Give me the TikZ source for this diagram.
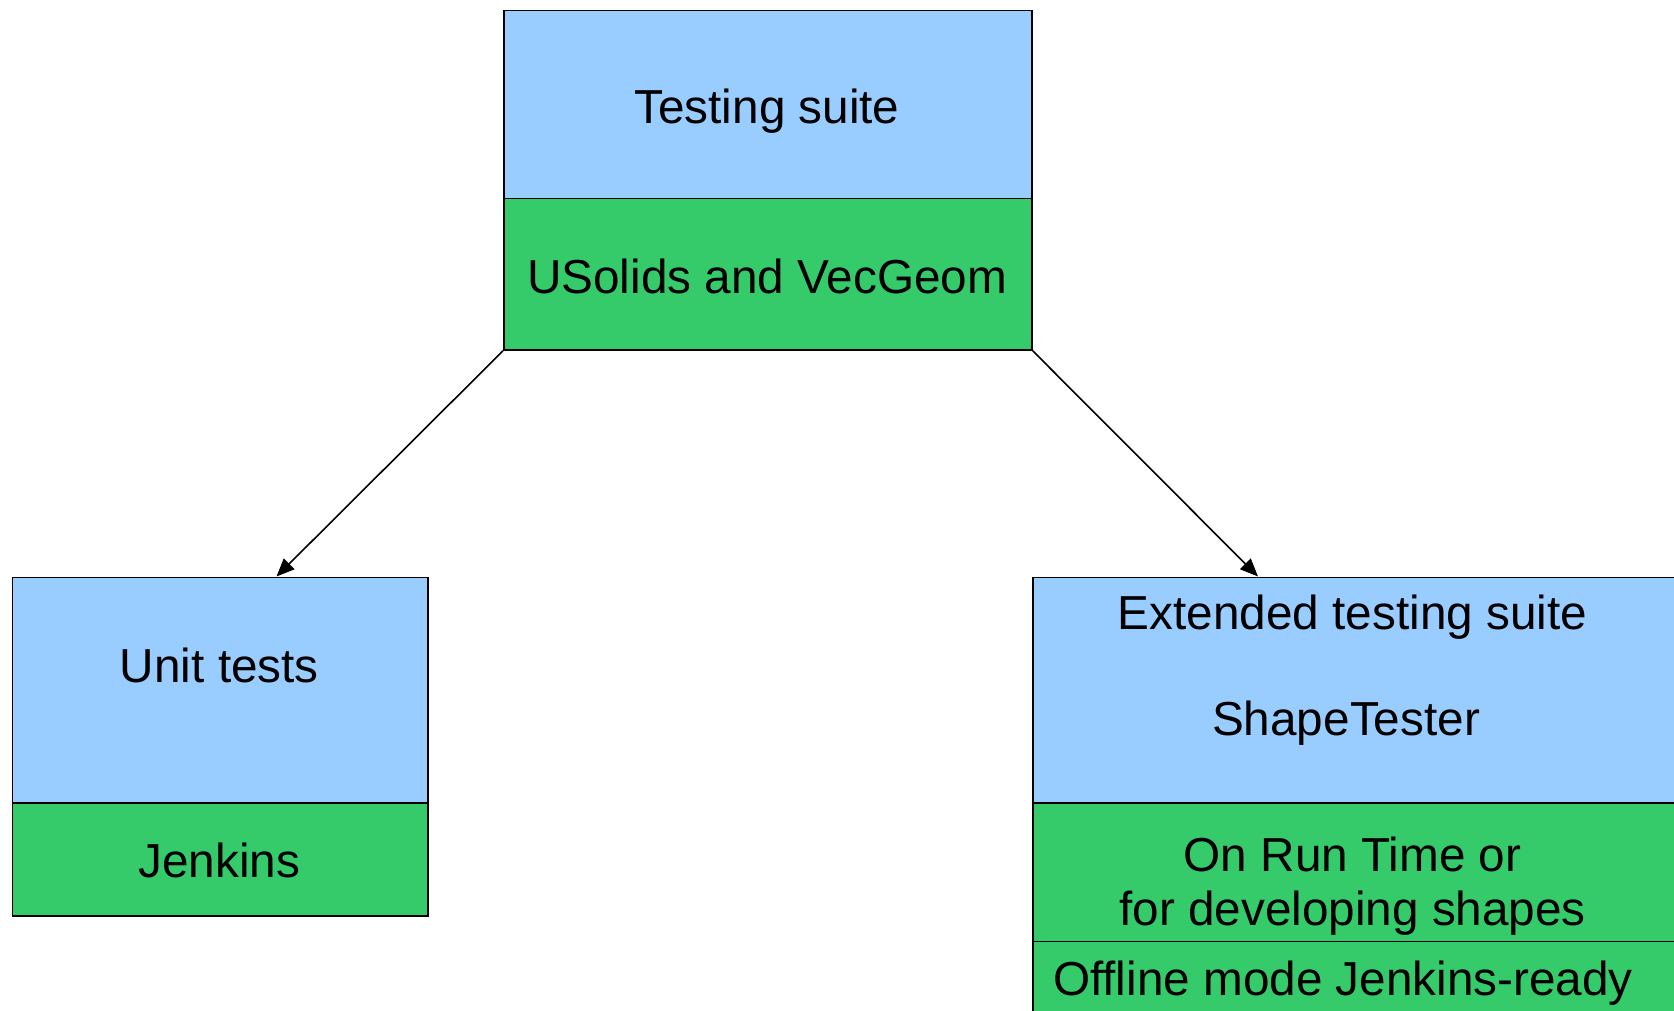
\documentclass[tikz,border=0pt]{standalone}
\usepackage{fontspec}
\setmainfont{Liberation Sans}
\usetikzlibrary{arrows.meta, calc}

\definecolor{suiteblue}{RGB}{153,204,255}
\definecolor{suitegreen}{RGB}{54,203,106}

\begin{document}
\begin{tikzpicture}[x=1pt, y=-1pt]
  % Define styles
  \tikzstyle{part} = [rectangle, draw, line width=1.7pt, inner sep=0pt, anchor=north west]
  \tikzstyle{upper} = [part, fill=suiteblue]
  \tikzstyle{lower} = [part, fill=suitegreen]
  \tikzstyle{txt} = [inner sep=0pt, anchor=base, align=center, font=\fontsize{47.7}{54.5}\selectfont]
  \tikzstyle{link} = [line width=1.6pt, -{Triangle[length=18pt, width=15pt]}]

  \useasboundingbox (0,0) rectangle (1674,1011);
  \clip (0,0) rectangle (1674,1011);

  % Testing suite
  \node[upper, minimum width=528pt, minimum height=188pt] (suite) at (503,9.6) {};
  \node[lower, minimum width=528pt, minimum height=151.5pt] (usolids) at (503,197.6) {};
  \node[txt] (suitetxt) at (767,124) {Testing suite};
  \node[txt] (usolidstxt) at (767,293.5) {USolids and VecGeom};

  % Unit tests
  \node[upper, minimum width=415.3pt, minimum height=225.3pt] (unit) at (11.7,576.5) {};
  \node[lower, minimum width=415.3pt, minimum height=113.2pt] (jenkins) at (11.7,801.8) {};
  \node[txt] (unittxt) at (219.4,682) {Unit tests};
  \node[txt] (jenkinstxt) at (219.4,877.5) {Jenkins};

  % Extended testing suite
  \node[upper, minimum width=644pt, minimum height=225.3pt] (extended) at (1032,576.5) {};
  \node[lower, minimum width=644pt, minimum height=138.8pt] (runtime) at (1032,801.8) {};
  \node[lower, minimum width=644pt, minimum height=80pt] (offline) at (1032,940.6) {};
  \node[txt] (extendedtxt) at (1352.6,629) {Extended testing suite};
  \node[txt] (shapetxt) at (1346,735.5) {ShapeTester};
  \node[txt] (runtimetxt) at (1352.6,925.5) {On Run Time or\\for developing shapes};
  \node[txt] (offlinetxt) at (1343,995) {Offline mode Jenkins-ready};

  % Arrows
  \draw[link] (usolids.south west) -- ($(unit.north west)!0.635!(unit.north east)$);
  \draw[link] (usolids.south east) -- ($(extended.north west)!0.35!(extended.north east)$);
\end{tikzpicture}
\end{document}
